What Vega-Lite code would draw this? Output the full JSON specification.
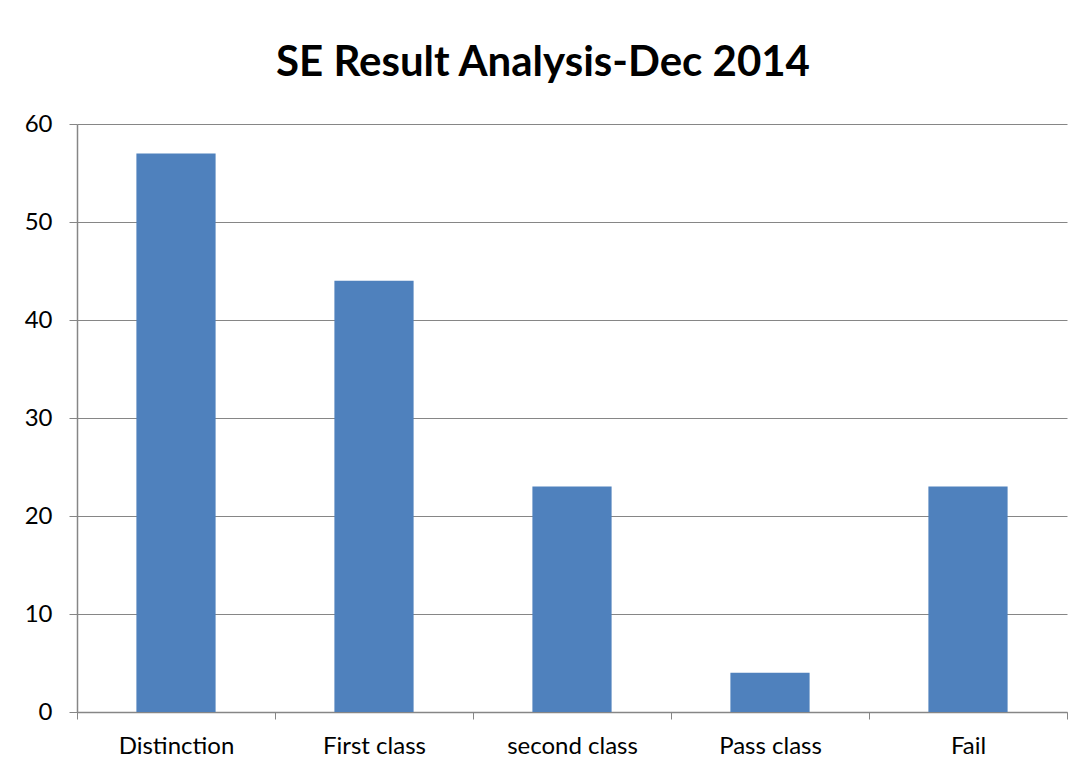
{
  "$schema": "https://vega.github.io/schema/vega-lite/v6.json",
  "autosize": "none",
  "width": 990,
  "height": 588,
  "padding": {"left": 77, "top": 124, "right": 23, "bottom": 61},
  "background": "white",
  "title": {
    "text": "SE Result Analysis-Dec 2014",
    "font": "Lato",
    "fontSize": 42,
    "fontWeight": "bold",
    "color": "#000000",
    "anchor": "middle",
    "frame": "group",
    "dx": -29,
    "offset": 27
  },
  "data": {
    "values": [
      {"category": "Distinction", "count": 57},
      {"category": "First class", "count": 44},
      {"category": "second class", "count": 23},
      {"category": "Pass class", "count": 4},
      {"category": "Fail", "count": 23}
    ]
  },
  "mark": {"type": "bar", "color": "#4F81BD", "width": {"band": 0.4}},
  "encoding": {
    "x": {
      "field": "category",
      "type": "nominal",
      "sort": null,
      "scale": {"paddingInner": 0, "paddingOuter": 0},
      "axis": {
        "title": null,
        "labelAngle": 0,
        "tickBand": "extent",
        "tickSize": 7,
        "tickColor": "#868686",
        "domainColor": "#868686",
        "domainWidth": 1.5,
        "labelFont": "Lato",
        "labelFontSize": 24,
        "labelColor": "#000000",
        "labelPadding": 15
      }
    },
    "y": {
      "field": "count",
      "type": "quantitative",
      "scale": {"domain": [0, 60]},
      "axis": {
        "title": null,
        "values": [0, 10, 20, 30, 40, 50, 60],
        "tickSize": 8,
        "tickColor": "#868686",
        "domainColor": "#868686",
        "domainWidth": 1.5,
        "gridColor": "#868686",
        "gridWidth": 1,
        "labelFont": "Lato",
        "labelFontSize": 24,
        "labelColor": "#000000",
        "labelPadding": 17
      }
    }
  },
  "config": {"view": {"stroke": null}}
}
